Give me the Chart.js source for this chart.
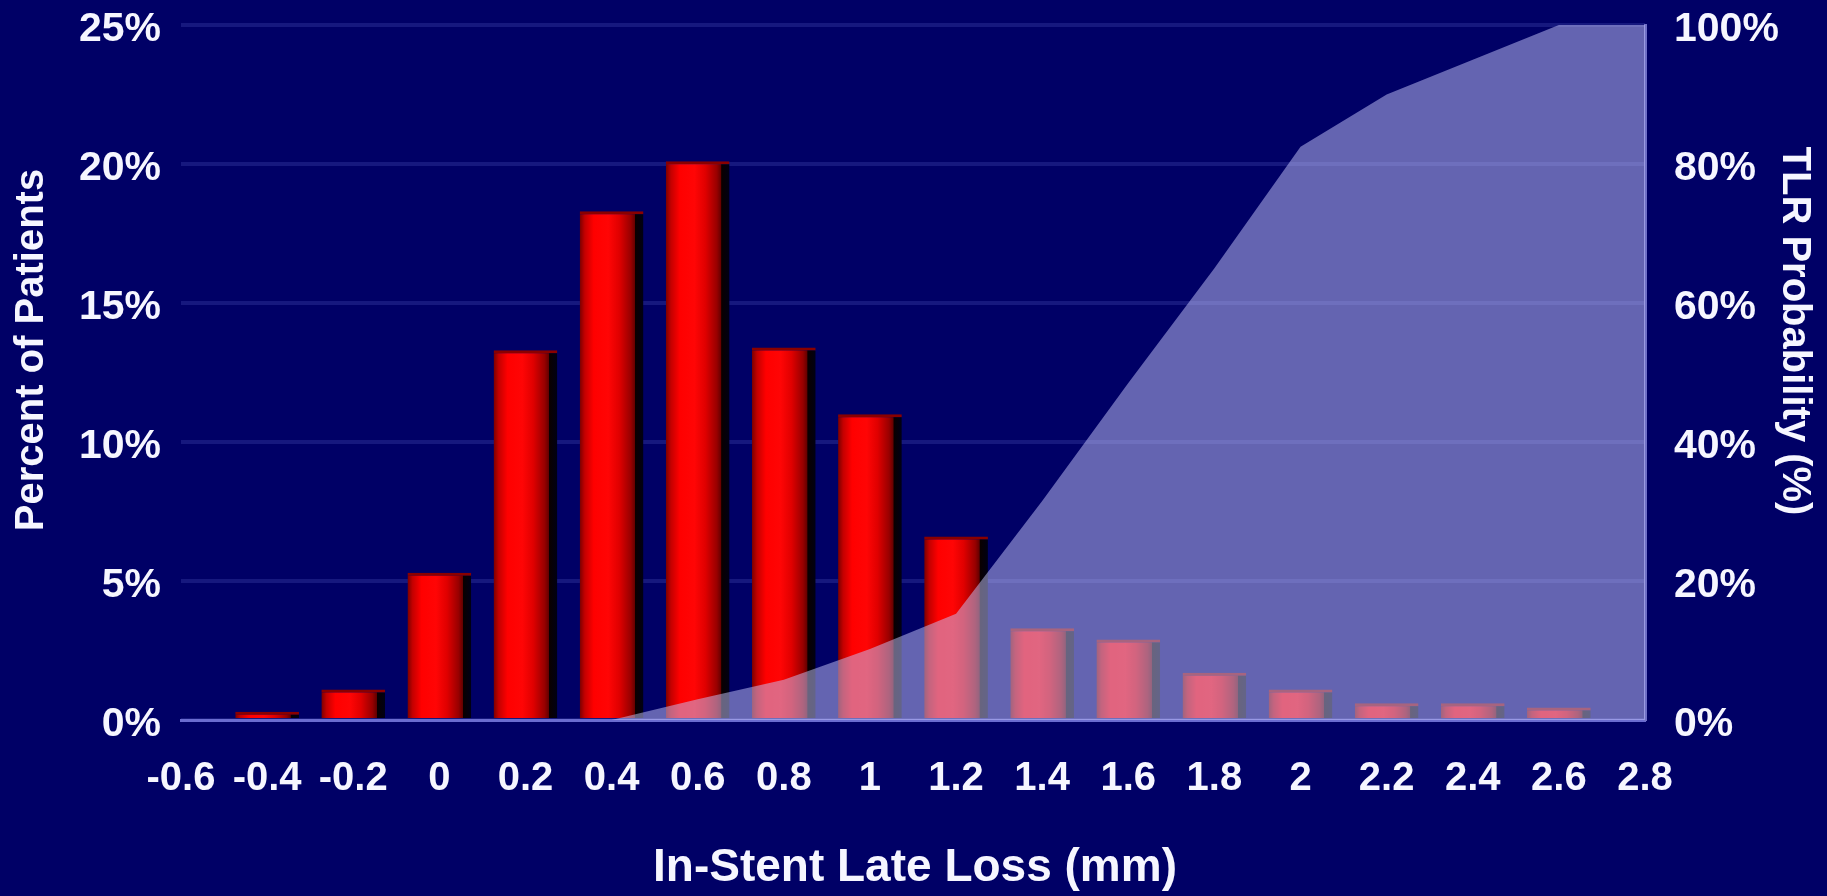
<!DOCTYPE html>
<html>
<head>
<meta charset="utf-8">
<title>In-Stent Late Loss vs TLR Probability</title>
<script src="https://cdn.jsdelivr.net/npm/chart.js@4.4.1/dist/chart.umd.min.js"></script>
<style>
  html, body { margin: 0; padding: 0; background: #000066; }
  #wrap { width: 1827px; height: 896px; }
</style>
</head>
<body>
<div id="wrap"><canvas id="chart" width="1827" height="896"></canvas></div>
<script>
// In-stent late loss bins (mm)
const lateLossBins = ['-0.6', '-0.4', '-0.2', '0', '0.2', '0.4', '0.6', '0.8', '1', '1.2',
                      '1.4', '1.6', '1.8', '2', '2.2', '2.4', '2.6', '2.8'];
// Percent of patients in each bin
const percentPatients = [null, 0.3, 1.1, 5.3, 13.3, 18.3, 20.1, 13.4, 11.0, 6.6,
                         3.3, 2.9, 1.7, 1.1, 0.6, 0.6, 0.45, null];
// TLR probability (%) as a function of late loss
const tlrProbability = [null, null, null, null, null, 0, 3, 5.8, 10.2, 15.3,
                        31.5, 48.5, 65, 82.5, 90, 95, 100, 100];
// Axis ranges
const leftAxisMax = 25, leftAxisStep = 5;
const rightAxisMax = 100, rightAxisStep = 20;
// Axis titles
const xTitle = 'In-Stent Late Loss (mm)';
const leftTitle = 'Percent of Patients';
const rightTitle = 'TLR Probability (%)';

const FONT = '"Liberation Sans", Arial, Helvetica, sans-serif';
const TEXT = '#f6f6ff';
const BAR_FRACTION = 0.74;

// shaded cylinder-like fill for each bar, with a dark drop shadow on its right side
function barFill(c) {
  const chart = c.chart;
  const xs = chart.scales && chart.scales.x;
  if (!xs || c.type !== 'data' || !chart.chartArea) return '#ff0000';
  const cx = xs.getPixelForValue(c.dataIndex);
  const w = (xs.getPixelForValue(1) - xs.getPixelForValue(0)) * BAR_FRACTION;
  const g = chart.ctx.createLinearGradient(cx - w / 2, 0, cx + w / 2, 0);
  g.addColorStop(0, '#7a0000');
  g.addColorStop(0.08, '#c40000');
  g.addColorStop(0.22, '#ff0000');
  g.addColorStop(0.45, '#ff0505');
  g.addColorStop(0.62, '#e00000');
  g.addColorStop(0.8, '#980000');
  g.addColorStop(0.865, '#660000');
  g.addColorStop(0.875, '#0a0000');
  g.addColorStop(1, '#000014');
  return g;
}

const background = {
  id: 'background',
  beforeDraw(chart) {
    const ctx = chart.ctx;
    ctx.save();
    ctx.fillStyle = '#000066';
    ctx.fillRect(0, 0, chart.width, chart.height);
    ctx.restore();
  }
};

// axis titles placed around the plot area
const axisTitles = {
  id: 'axisTitles',
  afterDraw(chart) {
    const ctx = chart.ctx;
    ctx.save();
    ctx.fillStyle = TEXT;
    ctx.textAlign = 'center';
    ctx.textBaseline = 'middle';
    ctx.font = 'bold 46px ' + FONT;
    ctx.fillText(xTitle, 915, 868);
    ctx.font = 'bold 40px ' + FONT;
    ctx.save();
    ctx.translate(32, 350);
    ctx.rotate(-Math.PI / 2);
    ctx.fillText(leftTitle, 0, 0);
    ctx.restore();
    ctx.save();
    ctx.translate(1794, 331);
    ctx.rotate(Math.PI / 2);
    ctx.fillText(rightTitle, 0, 0);
    ctx.restore();
    ctx.restore();
  }
};

// keep the vertical axes from reserving extra room above and below the plot
function fitVertical(width) {
  return function (scale) {
    scale.width = width;
    scale.paddingTop = 0;
    scale.paddingBottom = 0;
  };
}

new Chart(document.getElementById('chart'), {
  data: {
    labels: lateLossBins,
    datasets: [
      {
        type: 'line',
        label: 'TLR Probability',
        data: tlrProbability,
        yAxisID: 'y2',
        order: 0,
        fill: 'origin',
        backgroundColor: 'rgba(196, 196, 250, 0.51)',
        borderWidth: 0,
        borderColor: 'rgba(0,0,0,0)',
        pointRadius: 0,
        tension: 0
      },
      {
        type: 'bar',
        label: 'Percent of Patients',
        data: percentPatients,
        yAxisID: 'y',
        order: 1,
        backgroundColor: barFill,
        borderColor: '#8a0000',
        borderWidth: { top: 3, left: 0, right: 0, bottom: 0 },
        borderSkipped: false,
        categoryPercentage: 1,
        barPercentage: BAR_FRACTION
      }
    ]
  },
  options: {
    responsive: false,
    devicePixelRatio: 1,
    animation: false,
    layout: { padding: { top: 25, left: 0, right: 0, bottom: 0 } },
    plugins: { legend: { display: false }, tooltip: { enabled: false } },
    scales: {
      x: {
        type: 'category',
        offset: false,
        grid: { display: false, drawTicks: false },
        border: { display: true, color: '#6a6cd0', width: 3 },
        ticks: {
          color: TEXT,
          font: { family: FONT, size: 40, weight: 'bold' },
          padding: 35,
          autoSkip: false,
          maxRotation: 0
        },
        afterFit(scale) { scale.height = 176; }
      },
      y: {
        position: 'left',
        min: 0,
        max: leftAxisMax,
        grid: { color: '#16187e', lineWidth: 4, drawTicks: false },
        border: { display: false },
        ticks: {
          stepSize: leftAxisStep,
          color: TEXT,
          font: { family: FONT, size: 41, weight: 'bold' },
          padding: 20,
          labelOffset: 5,
          callback: v => v + '%'
        },
        afterFit: fitVertical(181)
      },
      y2: {
        position: 'right',
        min: 0,
        max: rightAxisMax,
        grid: { drawOnChartArea: false, drawTicks: false },
        border: { display: true, color: '#6f70c6', width: 3 },
        ticks: {
          stepSize: rightAxisStep,
          color: TEXT,
          font: { family: FONT, size: 41, weight: 'bold' },
          padding: 29,
          labelOffset: 5,
          callback: v => v + '%'
        },
        afterFit: fitVertical(182)
      }
    }
  },
  plugins: [background, axisTitles]
});
</script>
</body>
</html>
